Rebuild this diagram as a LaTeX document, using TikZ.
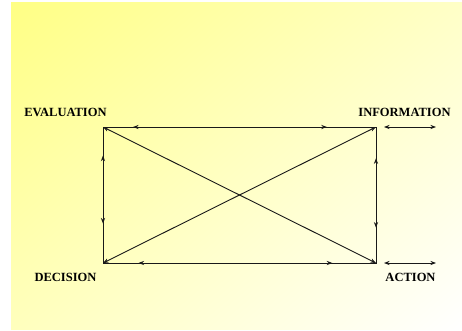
\documentclass[tikz,border=0pt]{standalone}
\usepackage{fontspec}
\setmainfont{Liberation Serif}
\usetikzlibrary{arrows.meta, positioning, calc, shadings}
\tikzset{
  lbl/.style={font=\fontsize{8.9}{10}\selectfont\bfseries,inner sep=0pt},
  side/.style={line width=0.65pt,draw=black!90},
  arr/.style={{Stealth[length=4pt,width=3pt]}-{Stealth[length=4pt,width=3pt]},
    line width=0.65pt,draw=black!90}
}

\begin{document}
\begin{tikzpicture}[x=0.025cm,y=-0.025cm]
  \useasboundingbox (0,0) rectangle (462,330);
  \shade[upper left=yellow!48,upper right=yellow!22,lower left=yellow!26,
    lower right=white] (11,2) rectangle (462,329);

  % corners
  \coordinate (eval) at (103,127);
  \coordinate (info) at (376,127);
  \coordinate (dec) at (103,263);
  \coordinate (act) at (376,263);

  \node[lbl] (evallbl) at (65.5,112) {EVALUATION};
  \node[lbl] (infolbl) at (404.5,112) {INFORMATION};
  \node[lbl] (declbl) at (65.5,277) {DECISION};
  \node[lbl] (actlbl) at (410.5,277) {ACTION};

  \draw[side] (eval) -- (info) -- (act) -- (dec) -- cycle;
  \draw[arr] (eval) -- (act);
  \draw[arr] (dec) -- (info);

  \draw[arr] ($(eval)!0.11!(info)$) -- ($(eval)!0.82!(info)$);
  \draw[arr] ($(dec)!0.13!(act)$) -- ($(dec)!0.84!(act)$);
  \draw[arr] ($(eval)!0.21!(dec)$) -- ($(eval)!0.71!(dec)$);
  \draw[arr] ($(info)!0.23!(act)$) -- ($(info)!0.74!(act)$);

  % outside
  \coordinate (infoa) at (384,127);
  \coordinate (infob) at (436,127);
  \coordinate (acta) at (384,263);
  \coordinate (actb) at (436,263);
  \draw[arr] (infoa) -- (infob);
  \draw[arr] (acta) -- (actb);

\end{tikzpicture}
\end{document}
